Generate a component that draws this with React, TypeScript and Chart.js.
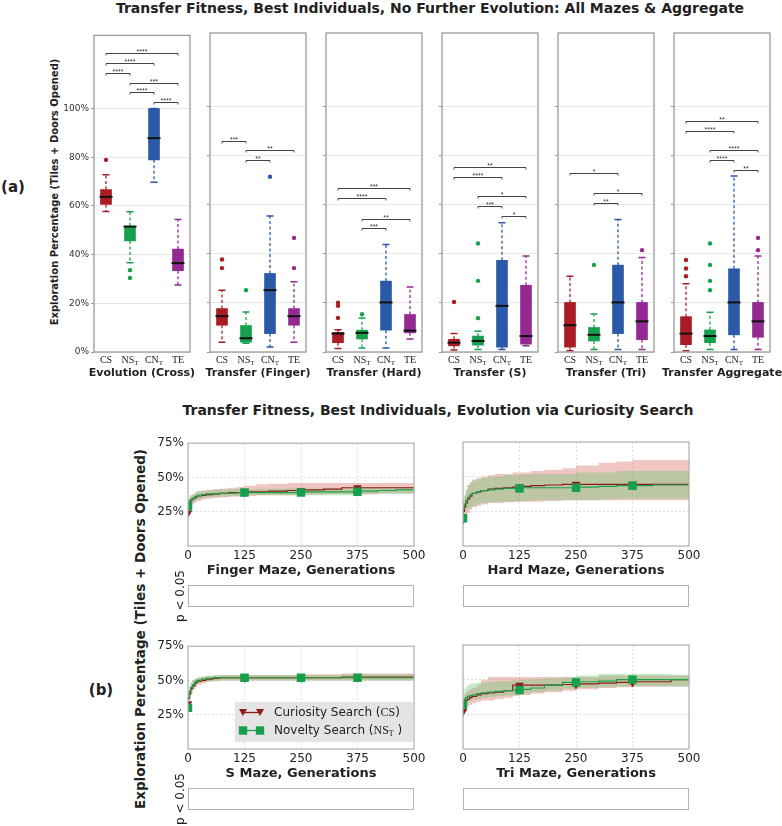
import React, { useEffect, useRef } from 'react';
import { Chart, registerables } from 'chart.js';

Chart.register(...registerables);

const SANS = "'DejaVu Sans', sans-serif";
const SERIF = "'Liberation Serif', 'DejaVu Serif', serif";
const INK = '#222222';

// ---------------- (a) box plots ----------------
const boxCategories = ['CS', 'NS', 'CN', 'TE'];
const boxSubscripts = ['', 'T', 'T', ''];
const boxColors = ['#a81c22', '#16a04e', '#2a59a8', '#922a92'];
const boxPanelTitles = [
  'Evolution (Cross)',
  'Transfer (Finger)',
  'Transfer (Hard)',
  'Transfer (S)',
  'Transfer (Tri)',
  'Transfer Aggregate',
];
const boxYTicks = [0, 20, 40, 60, 80, 100];

// per panel, per category (CS, NS_T, CN_T, TE)
const boxLow = [
  [57.7, 36.6, 69.7, 27.5],
  [4.0, 3.6, 2.0, 4.0],
  [1.4, 1.6, 1.6, 5.3],
  [0.8, 1.0, 1.0, 2.5],
  [0.5, 1.0, 1.0, 1.0],
  [0.5, 1.0, 1.0, 1.0],
];
const boxQ1 = [
  [60.6, 45.6, 78.9, 33.4],
  [10.9, 4.0, 7.5, 10.9],
  [3.8, 5.3, 8.9, 7.8],
  [2.5, 2.8, 2.0, 3.2],
  [2.0, 4.5, 7.5, 5.0],
  [3.0, 3.8, 7.0, 6.0],
];
const boxMedian = [
  [63.7, 51.5, 87.8, 36.5],
  [14.6, 5.6, 25.2, 14.6],
  [7.5, 7.8, 20.2, 8.7],
  [3.8, 4.5, 18.8, 6.5],
  [10.9, 7.0, 20.2, 12.5],
  [7.5, 6.5, 20.2, 12.5],
];
const boxQ3 = [
  [66.7, 51.7, 100, 42.3],
  [17.7, 10.8, 32.0, 17.7],
  [8.0, 8.9, 28.9, 15.3],
  [5.2, 6.5, 37.4, 27.2],
  [20.2, 10.0, 35.4, 20.2],
  [14.4, 9.0, 33.9, 20.2],
];
const boxHigh = [
  [72.8, 57.6, 100, 54.4],
  [25.2, 16.3, 55.4, 28.6],
  [9.1, 13.9, 43.8, 26.5],
  [7.5, 8.5, 52.7, 39.1],
  [30.9, 15.5, 54.0, 38.5],
  [27.8, 16.2, 71.7, 39.1],
];
const boxOutliers = [
  [[78.9], [33.6, 30.4], [], []],
  [[37.7, 34.2], [25.2], [71.4], [46.5, 34.2]],
  [[20.1, 18.8, 13.9], [15.4], [], []],
  [[20.4], [44.2, 29.0, 13.8], [], []],
  [[], [35.5], [], [41.5]],
  [[37.5, 34.0, 30.9], [44.2, 35.5, 29.0, 25.2], [], [46.5, 41.5]],
];
// [from category, to category, y value, stars]
const boxBrackets: [number, number, number, string][][] = [
  [[0, 3, 122.9, '****'], [0, 2, 118.8, '****'], [0, 1, 114.7, '****'], [1, 3, 110.6, '***'], [1, 2, 106.7, '****'], [2, 3, 102.7, '****']],
  [[0, 1, 86.1, '***'], [1, 3, 82.2, '**'], [1, 2, 78.1, '**']],
  [[0, 3, 66.7, '***'], [0, 2, 62.6, '****'], [1, 3, 54.4, '**'], [1, 2, 50.4, '***']],
  [[0, 3, 75.5, '**'], [0, 2, 71.4, '****'], [1, 3, 63.4, '*'], [1, 2, 59.6, '***'], [2, 3, 55.5, '*']],
  [[0, 2, 72.8, '*'], [1, 3, 64.6, '*'], [1, 2, 60.6, '**']],
  [[0, 3, 94.3, '**'], [0, 2, 90.2, '****'], [1, 3, 82.4, '****'], [1, 2, 78.2, '****'], [2, 3, 74.2, '**']],
];

// ---------------- (b) line charts ----------------
const lineTitles = ['Finger Maze, Generations', 'Hard Maze, Generations', 'S Maze, Generations', 'Tri Maze, Generations'];
const lineYTicks = [0, 25, 50, 75];
const markerGens = [0, 125, 250, 375];
const gens = [0, 3, 6, 10, 15, 20, 30, 40, 55, 70, 90, 110, 125, 150, 180, 220, 250, 300, 340, 375, 420, 460, 500];

const csMean = [
  [24, 29, 32, 33.5, 34.5, 35.5, 36.5, 37, 37.5, 38, 38.5, 39, 39, 39.5, 39.5, 40, 40.5, 41, 41.5, 42.5, 42.5, 42.5, 42.5],
  [19, 25, 28, 31, 34, 36, 38, 39, 40, 41, 41.5, 42, 42.5, 43, 43.5, 44, 44.5, 44.5, 44.5, 44.5, 44.5, 44.5, 44.5],
  [33, 37, 40, 44, 46, 48, 49.5, 50, 51, 51.5, 52, 52, 52, 52, 52, 52, 52, 52, 52, 52.5, 52.5, 52.5, 52.5],
  [27, 31, 33, 35, 36, 37, 38, 39, 40, 40.5, 41, 42, 46, 46, 46, 46, 46.5, 47, 47.5, 48, 48.5, 48.5, 50],
];
const csLow = [
  [20, 25, 28, 30, 31, 32, 33, 34, 34.5, 35, 35.5, 36, 36, 36.5, 37, 37, 37, 37.5, 38, 38, 38, 38.5, 38.5],
  [14, 18, 20, 22, 24, 26, 28, 29, 30, 31, 31, 31.5, 32, 32, 32, 32.5, 33, 33, 33, 33, 33, 33, 33],
  [28, 32, 36, 40, 43, 45, 47, 48, 49, 49.5, 50, 50, 50, 50, 50, 50, 50, 50, 50, 50, 50, 50, 50],
  [22, 25, 28, 30, 31, 32, 33, 34, 35, 35, 36, 37, 38, 39, 40, 41, 42, 43, 44, 44.5, 45, 45, 45],
];
const csHigh = [
  [30, 33, 36, 37, 38, 39, 40, 40.5, 41, 41.5, 42, 42.5, 43, 44, 45, 45.5, 46, 46, 46, 46, 46, 46, 46],
  [24, 32, 36, 40, 44, 46, 48, 49, 50, 51, 52, 52, 53, 53, 54, 55, 56, 58, 60, 61, 62, 62, 62],
  [37, 41, 44, 48, 50, 51, 52, 52.5, 53, 53.5, 54, 54, 54, 54, 54, 54, 54, 54.5, 54.5, 55, 55, 55, 55],
  [32, 37, 39, 41, 42, 43, 44, 46, 50, 52, 52, 52, 52, 52, 52, 52, 52, 52, 53, 53, 53, 53, 53],
];
const nsMean = [
  [29, 31, 33, 34, 35, 36, 37, 37.5, 38, 38, 38.5, 38.5, 39, 39, 39, 39, 39, 39.5, 39.5, 39.5, 40, 40.5, 41],
  [20, 27, 30, 33, 35, 37, 38, 39, 40, 40.5, 41, 41.5, 41.5, 42, 42, 42, 42, 42.5, 43, 43.5, 43.5, 44, 44],
  [30, 38, 42, 45, 47, 49, 50, 51, 51.5, 52, 52, 52, 52, 52, 52, 52, 52, 52, 52, 52, 52, 52, 52],
  [32, 34, 36, 37, 38, 38.5, 39, 40, 40.5, 41, 41.5, 42, 42.5, 43, 44, 46, 48, 48.5, 49, 50, 50, 50, 50],
];
const nsLow = [
  [25, 28, 30, 31, 32, 33, 34, 35, 35.5, 36, 36, 36.5, 36.5, 37, 37, 37, 37, 37, 37, 37, 37.5, 38, 38],
  [15, 20, 22, 25, 27, 28, 29, 30, 31, 31.5, 32, 32, 32, 32.5, 33, 33, 33, 33, 33.5, 34, 34, 34, 34],
  [26, 33, 37, 41, 44, 46, 48, 49, 49.5, 50, 50, 50, 50, 50, 50, 50, 50, 50, 50, 50, 50, 50, 50],
  [28, 30, 32, 33, 34, 35, 35.5, 36, 37, 37.5, 38, 38.5, 39, 40, 41, 42, 43.5, 44, 44.5, 45, 45, 45, 45],
];
const nsHigh = [
  [32, 34, 36, 37, 38, 39, 40, 40, 40.5, 41, 41, 41.5, 41.5, 41.5, 41.5, 42, 42, 42, 42, 42, 42.5, 43, 43],
  [25, 33, 37, 41, 44, 46, 47, 48, 49, 50, 50, 51, 51, 51.5, 52, 52, 52, 53, 53, 54, 54, 54, 54],
  [34, 43, 46, 49, 50.5, 51.5, 52.5, 53, 53.5, 54, 54, 54, 54, 54, 54, 54, 54, 54, 54, 54.5, 54.5, 54.5, 54.5],
  [36, 40, 43, 45, 46, 47, 47.5, 48, 48, 48.5, 49, 49, 49.5, 50, 50.5, 51, 52, 53, 54, 54, 54, 54, 53.5],
];

const CS_LINE = '#8e1b1b';
const NS_LINE = '#1f9e48';
const NS_MARK = '#17a04c';
const CS_BAND = 'rgba(214, 105, 95, 0.38)';
const NS_BAND = 'rgba(105, 200, 110, 0.38)';

// ---------------- layout ----------------
const boxLefts = [94, 210, 326, 442, 558, 674];
const boxW = 96;
const boxTop = 33;
const boxBottom = 352;
const lineLefts = [188, 463];
const lineTops = [442, 645];
const lineW = 226;
const lineH = 104;
const pBoxTops = [585, 788];

type Seg = { t: string; font: string; dy?: number };
function drawRich(ctx: CanvasRenderingContext2D, segs: Seg[], x: number, y: number, align: 'left' | 'center') {
  let total = 0;
  const widths = segs.map((s) => {
    ctx.font = s.font;
    const w = ctx.measureText(s.t).width;
    total += w;
    return w;
  });
  let cx = align === 'center' ? x - total / 2 : x;
  ctx.textAlign = 'left';
  ctx.textBaseline = 'middle';
  segs.forEach((s, k) => {
    ctx.font = s.font;
    ctx.fillText(s.t, cx, y + (s.dy || 0));
    cx += widths[k];
  });
}

function boxPlugin(p: number) {
  return {
    id: 'boxExtras',
    beforeDatasetsDraw(chart: any) {
      const { ctx } = chart;
      const xs = chart.scales.x;
      const ys = chart.scales.y;
      ctx.save();
      boxCategories.forEach((_, i) => {
        const px = xs.getPixelForValue(i);
        ctx.strokeStyle = boxColors[i];
        ctx.lineWidth = 1.3;
        ctx.setLineDash([3, 2.5]);
        ctx.beginPath();
        ctx.moveTo(px, ys.getPixelForValue(boxQ3[p][i]));
        ctx.lineTo(px, ys.getPixelForValue(boxHigh[p][i]));
        ctx.moveTo(px, ys.getPixelForValue(boxQ1[p][i]));
        ctx.lineTo(px, ys.getPixelForValue(boxLow[p][i]));
        ctx.stroke();
        ctx.setLineDash([]);
        ctx.lineWidth = 1.5;
        ctx.beginPath();
        [boxHigh[p][i], boxLow[p][i]].forEach((v) => {
          const py = ys.getPixelForValue(v);
          ctx.moveTo(px - 3.5, py);
          ctx.lineTo(px + 3.5, py);
        });
        ctx.stroke();
      });
      ctx.restore();
    },
    afterDatasetsDraw(chart: any) {
      const { ctx } = chart;
      const xs = chart.scales.x;
      const ys = chart.scales.y;
      ctx.save();
      ctx.strokeStyle = '#111';
      ctx.lineWidth = 2;
      boxCategories.forEach((_, i) => {
        const px = xs.getPixelForValue(i);
        const py = ys.getPixelForValue(boxMedian[p][i]);
        ctx.beginPath();
        ctx.moveTo(px - 6.5, py);
        ctx.lineTo(px + 6.5, py);
        ctx.stroke();
      });
      ctx.strokeStyle = '#444';
      ctx.lineWidth = 1;
      ctx.fillStyle = '#333';
      ctx.font = `7px 'Liberation Sans', sans-serif`;
      ctx.textAlign = 'center';
      ctx.textBaseline = 'alphabetic';
      boxBrackets[p].forEach(([a, b, v, stars]) => {
        const x1 = xs.getPixelForValue(a);
        const x2 = xs.getPixelForValue(b);
        const py = Math.round(ys.getPixelForValue(v)) + 0.5;
        ctx.beginPath();
        ctx.moveTo(x1, py + 2);
        ctx.lineTo(x1, py);
        ctx.lineTo(x2, py);
        ctx.lineTo(x2, py + 2);
        ctx.stroke();
        ctx.fillText(stars, (x1 + x2) / 2, py + 0.5);
      });
      ctx.restore();
    },
    afterDraw(chart: any) {
      const { ctx, chartArea: a } = chart;
      const xs = chart.scales.x;
      ctx.save();
      ctx.strokeStyle = '#9a9a9a';
      ctx.lineWidth = 1.3;
      ctx.strokeRect(a.left, a.top, a.right - a.left, a.bottom - a.top);
      ctx.fillStyle = INK;
      boxCategories.forEach((c, i) => {
        const segs: Seg[] = [{ t: c, font: `10px ${SERIF}` }];
        if (boxSubscripts[i]) segs.push({ t: boxSubscripts[i], font: `7px ${SERIF}`, dy: 3 });
        drawRich(ctx, segs, xs.getPixelForValue(i), a.bottom + 8, 'center');
      });
      ctx.font = `bold 11px ${SANS}`;
      ctx.textAlign = 'center';
      ctx.textBaseline = 'middle';
      ctx.fillText(boxPanelTitles[p], (a.left + a.right) / 2, a.bottom + 21);
      ctx.restore();
    },
  };
}

function BoxPanel({ p }: { p: number }) {
  const ref = useRef<HTMLCanvasElement>(null);
  const yW = p === 0 ? 40 : 6;
  const padTop = 5;
  const padRight = 16;
  const padLeft = p === 0 ? 0 : 10;
  const xH = 30;
  const left = boxLefts[p] - yW - padLeft;
  const top = boxTop - padTop;
  const width = padLeft + yW + boxW + padRight;
  const height = padTop + (boxBottom - boxTop) + xH;
  useEffect(() => {
    const outPts: { x: string; y: number }[] = [];
    const outCols: string[] = [];
    boxOutliers[p].forEach((vals, i) => {
      vals.forEach((v) => {
        outPts.push({ x: boxCategories[i], y: v });
        outCols.push(boxColors[i]);
      });
    });
    const chart = new Chart(ref.current as HTMLCanvasElement, {
      type: 'bar',
      data: {
        labels: boxCategories,
        datasets: [
          {
            type: 'bar',
            data: boxCategories.map((_, i) => [boxQ1[p][i], boxQ3[p][i]]),
            backgroundColor: boxColors,
            borderWidth: 0,
            barThickness: 11,
            order: 2,
          } as any,
          {
            type: 'line',
            data: outPts,
            showLine: false,
            pointRadius: 2.2,
            pointBackgroundColor: outCols,
            pointBorderWidth: 0,
            order: 1,
          } as any,
        ],
      },
      options: {
        responsive: false,
        animation: false,
        devicePixelRatio: 1,
        layout: { padding: { top: padTop, right: padRight, left: padLeft, bottom: 0 } },
        plugins: { legend: { display: false }, tooltip: { enabled: false } },
        scales: {
          x: {
            grid: { display: false },
            border: { display: false },
            ticks: { display: false },
            afterFit: (s: any) => {
              s.height = xH;
            },
          },
          y: {
            min: 0,
            max: 130,
            afterBuildTicks: (s: any) => {
              s.ticks = boxYTicks.map((v) => ({ value: v }));
            },
            grid: { color: '#e8e8e8', tickColor: '#999', tickLength: 3 },
            border: { display: false },
            ticks: {
              display: p === 0,
              font: { family: SANS, size: 9 },
              color: '#333',
              padding: 2,
              callback: (v: any) => v + '%',
            },
            afterFit: (s: any) => {
              s.width = yW;
            },
          },
        },
      } as any,
      plugins: [boxPlugin(p)],
    });
    return () => chart.destroy();
  }, []);
  return (
    <canvas
      ref={ref}
      width={width}
      height={height}
      style={{ position: 'absolute', left, top, width, height }}
    />
  );
}

function drawLegend(ctx: CanvasRenderingContext2D, a: any) {
  const w = 178;
  const h = 40;
  const x0 = a.right - 1 - w;
  const y0 = a.bottom - 7 - h;
  ctx.fillStyle = 'rgba(226,226,226,0.92)';
  ctx.fillRect(x0, y0, w, h);
  const rows = [
    { y: y0 + 10.5, color: CS_LINE, kind: 'tri' },
    { y: y0 + 28.5, color: NS_LINE, kind: 'sq' },
  ];
  rows.forEach((r, k) => {
    ctx.strokeStyle = r.color;
    ctx.lineWidth = 1.3;
    ctx.beginPath();
    ctx.moveTo(x0 + 6, r.y);
    ctx.lineTo(x0 + 27, r.y);
    ctx.stroke();
    [x0 + 8, x0 + 25].forEach((mx) => {
      ctx.beginPath();
      if (r.kind === 'tri') {
        ctx.fillStyle = CS_LINE;
        ctx.moveTo(mx - 4, r.y - 3.5);
        ctx.lineTo(mx + 4, r.y - 3.5);
        ctx.lineTo(mx, r.y + 3.5);
        ctx.closePath();
      } else {
        ctx.fillStyle = NS_MARK;
        ctx.rect(mx - 4.2, r.y - 4.2, 8.4, 8.4);
      }
      ctx.fill();
    });
    ctx.fillStyle = INK;
    const segs: Seg[] =
      k === 0
        ? [
            { t: 'Curiosity Search (', font: `12px ${SANS}` },
            { t: 'CS', font: `12px ${SERIF}` },
            { t: ')', font: `12px ${SANS}` },
          ]
        : [
            { t: 'Novelty Search (', font: `12px ${SANS}` },
            { t: 'NS', font: `12px ${SERIF}` },
            { t: 'T', font: `8px ${SERIF}`, dy: 3 },
            { t: ' )', font: `12px ${SANS}` },
          ];
    drawRich(ctx, segs, x0 + 39, r.y, 'left');
  });
}

function linePlugin(j: number) {
  return {
    id: 'lineExtras',
    afterDraw(chart: any) {
      const { ctx, chartArea: a } = chart;
      ctx.save();
      ctx.strokeStyle = '#b3b3b3';
      ctx.lineWidth = 1.2;
      ctx.strokeRect(a.left, a.top, a.right - a.left, a.bottom - a.top);
      if (j === 2) drawLegend(ctx, a);
      ctx.fillStyle = INK;
      ctx.font = `bold 13px ${SANS}`;
      ctx.textAlign = 'center';
      ctx.textBaseline = 'middle';
      ctx.fillText(lineTitles[j], (a.left + a.right) / 2, a.bottom + 25);
      ctx.restore();
    },
  };
}

function LinePanel({ j }: { j: number }) {
  const ref = useRef<HTMLCanvasElement>(null);
  const col = j % 2;
  const row = Math.floor(j / 2);
  const L = lineLefts[col];
  const T = lineTops[row];
  const yW = 45;
  const padTop = 10;
  const padRight = 22;
  const xH = 36;
  const left = L - yW;
  const top = T - padTop;
  const width = yW + lineW + padRight;
  const height = padTop + lineH + xH;
  useEffect(() => {
    const pts = (arr: number[]) => gens.map((g, k) => ({ x: g, y: arr[k] }));
    const markerR = (r: number) => (c: any) => (markerGens.includes(gens[c.dataIndex]) ? r : 0);
    const band = { borderWidth: 0, borderColor: 'transparent', pointRadius: 0, stepped: 'after' };
    const chart = new Chart(ref.current as HTMLCanvasElement, {
      type: 'line',
      data: {
        datasets: [
          { ...band, data: pts(csLow[j]), fill: false, order: 3 },
          { ...band, data: pts(csHigh[j]), fill: '-1', backgroundColor: CS_BAND, order: 3 },
          { ...band, data: pts(nsLow[j]), fill: false, order: 2 },
          { ...band, data: pts(nsHigh[j]), fill: '-1', backgroundColor: NS_BAND, order: 2 },
          {
            data: pts(csMean[j]),
            borderColor: CS_LINE,
            borderWidth: 1.2,
            stepped: 'after',
            fill: false,
            pointStyle: 'triangle',
            pointRotation: 180,
            pointRadius: markerR(5),
            pointBackgroundColor: CS_LINE,
            pointBorderWidth: 0,
            order: 1,
          },
          {
            data: pts(nsMean[j]),
            borderColor: NS_LINE,
            borderWidth: 1.2,
            stepped: 'after',
            fill: false,
            pointStyle: 'rect',
            pointRadius: markerR(6),
            pointBackgroundColor: NS_MARK,
            pointBorderWidth: 0,
            order: 0,
          },
        ] as any,
      },
      options: {
        responsive: false,
        animation: false,
        devicePixelRatio: 1,
        layout: { padding: { top: padTop, right: padRight, left: 0, bottom: 0 } },
        plugins: { legend: { display: false }, tooltip: { enabled: false } },
        scales: {
          x: {
            type: 'linear',
            min: 0,
            max: 500,
            ticks: {
              stepSize: 125,
              font: { family: SANS, size: 12 },
              color: INK,
              padding: 3,
              maxRotation: 0,
              autoSkip: false,
            },
            grid: { color: 'rgba(0,0,0,0.13)', drawTicks: false },
            border: { display: false, dash: [2, 2] },
            afterFit: (s: any) => {
              s.height = xH;
            },
          },
          y: {
            min: 0,
            max: 75,
            afterBuildTicks: (s: any) => {
              s.ticks = lineYTicks.map((v) => ({ value: v }));
            },
            ticks: {
              display: col === 0,
              font: { family: SANS, size: 12 },
              color: INK,
              padding: 4,
              callback: (v: any) => (v === 0 ? '' : v + '%'),
            },
            grid: { color: 'rgba(0,0,0,0.13)', drawTicks: false },
            border: { display: false, dash: [2, 2] },
            afterFit: (s: any) => {
              s.width = yW;
            },
          },
        },
      } as any,
      plugins: [linePlugin(j)],
    });
    return () => chart.destroy();
  }, []);
  return (
    <canvas
      ref={ref}
      width={width}
      height={height}
      style={{ position: 'absolute', left, top, width, height }}
    />
  );
}

function Txt(props: { x: number; y: number; size: number; bold?: boolean; rotate?: boolean; children: any }) {
  const { x, y, size, bold, rotate, children } = props;
  return (
    <div
      style={{
        position: 'absolute',
        left: x,
        top: y,
        transform: `translate(-50%, -50%)${rotate ? ' rotate(-90deg)' : ''}`,
        fontSize: size,
        fontWeight: bold ? 'bold' : 'normal',
        fontFamily: SANS,
        color: INK,
        whiteSpace: 'nowrap',
        lineHeight: 1,
      }}
    >
      {children}
    </div>
  );
}

export default function App() {
  return (
    <div
      style={{
        position: 'fixed',
        left: 0,
        top: 0,
        width: 782,
        height: 826,
        background: '#ffffff',
        overflow: 'hidden',
      }}
    >
      <Txt x={430} y={8} size={14} bold>
        Transfer Fitness, Best Individuals, No Further Evolution: All Mazes &amp; Aggregate
      </Txt>
      <Txt x={13} y={187} size={15} bold>
        (a)
      </Txt>
      <Txt x={55} y={192} size={10} bold rotate>
        Exploration Percentage (Tiles + Doors Opened)
      </Txt>
      {boxLefts.map((_, p) => (
        <BoxPanel key={'b' + p} p={p} />
      ))}

      <Txt x={438} y={410} size={14} bold>
        Transfer Fitness, Best Individuals, Evolution via Curiosity Search
      </Txt>
      <Txt x={101} y={690} size={15} bold>
        (b)
      </Txt>
      <Txt x={141} y={629} size={13.5} bold rotate>
        Exploration Percentage (Tiles + Doors Opened)
      </Txt>
      {[0, 1, 2, 3].map((j) => (
        <LinePanel key={'l' + j} j={j} />
      ))}
      {pBoxTops.map((t, r) =>
        lineLefts.map((l, c) => (
          <div
            key={`p${r}${c}`}
            style={{
              position: 'absolute',
              left: l,
              top: t,
              width: lineW,
              height: 22,
              border: '1px solid #b3b3b3',
              boxSizing: 'border-box',
            }}
          />
        ))
      )}
      {pBoxTops.map((t, r) => (
        <Txt key={'pl' + r} x={180} y={t + 11} size={12} rotate>
          p &lt; 0.05
        </Txt>
      ))}
    </div>
  );
}
